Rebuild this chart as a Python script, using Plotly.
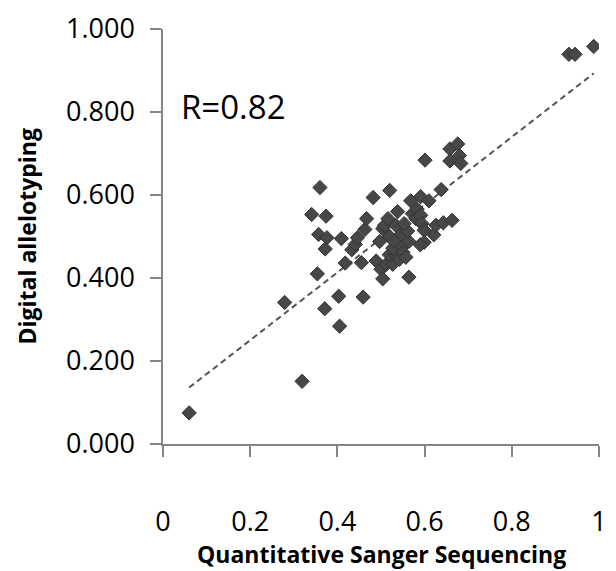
import numpy as np
import plotly.graph_objects as go

# Quantitative Sanger Sequencing (x) vs Digital allelotyping (y)
sanger = [0.060, 0.319, 0.279, 0.360, 0.341, 0.374, 0.357, 0.376, 0.372, 0.409,
          0.354, 0.371, 0.403, 0.405, 0.418, 0.455, 0.459, 0.433, 0.441, 0.446,
          0.463, 0.467, 0.482, 0.520, 0.489, 0.500, 0.504, 0.497, 0.504, 0.508,
          0.516, 0.512, 0.527, 0.519, 0.534, 0.542, 0.527, 0.549, 0.564, 0.545,
          0.561, 0.534, 0.553, 0.538, 0.564, 0.568, 0.572, 0.583, 0.591, 0.580,
          0.591, 0.594, 0.599, 0.599, 0.590, 0.610, 0.601, 0.621, 0.626, 0.638,
          0.643, 0.663, 0.658, 0.676, 0.658, 0.680, 0.683, 0.931, 0.945, 0.988,
          0.520, 0.530, 0.550, 0.557]
digital = [0.075, 0.151, 0.341, 0.618, 0.553, 0.549, 0.505, 0.497, 0.470, 0.495,
           0.410, 0.326, 0.356, 0.284, 0.436, 0.437, 0.354, 0.468, 0.481, 0.497,
           0.517, 0.543, 0.594, 0.611, 0.441, 0.421, 0.398, 0.488, 0.519, 0.527,
           0.543, 0.433, 0.433, 0.456, 0.456, 0.445, 0.472, 0.476, 0.488, 0.504,
           0.513, 0.527, 0.531, 0.560, 0.402, 0.586, 0.555, 0.566, 0.596, 0.543,
           0.551, 0.531, 0.515, 0.486, 0.480, 0.586, 0.684, 0.504, 0.527, 0.613,
           0.533, 0.539, 0.711, 0.723, 0.682, 0.695, 0.676, 0.939, 0.939, 0.958,
           0.500, 0.488, 0.462, 0.450]

# linear trendline
trend_slope = 0.816
trend_intercept = 0.087
r_label = "R=0.82"

x_ticks = [0, 0.2, 0.4, 0.6, 0.8, 1.0]
x_tick_text = ["0", "0.2", "0.4", "0.6", "0.8", "1"]
y_ticks = [0, 0.2, 0.4, 0.6, 0.8, 1.0]
y_tick_text = ["0.000", "0.200", "0.400", "0.600", "0.800", "1.000"]

tx = np.array([min(sanger), max(sanger)])
ty = trend_slope * tx + trend_intercept

fig = go.Figure()
fig.add_trace(go.Scatter(
    x=tx, y=ty, mode="lines",
    line=dict(color="#555555", width=2, dash="6px,4px"),
    hoverinfo="skip", showlegend=False))
fig.add_trace(go.Scatter(
    x=sanger, y=digital, mode="markers",
    marker=dict(symbol="diamond", size=11, color="#474747",
                line=dict(color="#333333", width=1)),
    showlegend=False))

font_family = "Open Sans"
axis_common = dict(
    showgrid=False, zeroline=False, showline=True,
    linecolor="#868686", linewidth=1.5,
    ticks="outside", ticklen=11, tickcolor="#868686", tickwidth=1.5,
    tickfont=dict(family=font_family, size=27, color="#000000"),
    ticklabeloverflow="allow",
)

fig.update_layout(
    width=616, height=571,
    margin=dict(l=163, r=9, t=19, b=127),
    paper_bgcolor="white", plot_bgcolor="white",
    xaxis=dict(range=[0, 1], tickvals=x_ticks, ticktext=x_tick_text,
               ticklabelstandoff=42, **axis_common),
    yaxis=dict(range=[0, 1], tickvals=y_ticks, ticktext=y_tick_text,
               ticklabelstandoff=10, **axis_common),
    annotations=[
        dict(text="<b>Quantitative Sanger Sequencing</b>", xref="paper", yref="paper",
             x=0.5, y=0, yshift=-110, xanchor="center", yanchor="middle",
             showarrow=False, font=dict(family=font_family, size=23, color="#000000")),
        dict(text="<b>Digital allelotyping</b>", xref="paper", yref="paper",
             x=0, y=0.5, xshift=-137, xanchor="center", yanchor="middle", textangle=-90,
             showarrow=False, font=dict(family=font_family, size=23, color="#000000")),
        dict(text=r_label, xref="paper", yref="paper",
             x=0, y=1, xshift=16, yshift=-77, xanchor="left", yanchor="middle",
             showarrow=False, font=dict(family=font_family, size=33, color="#000000")),
    ],
)

fig.write_html("out.html")
